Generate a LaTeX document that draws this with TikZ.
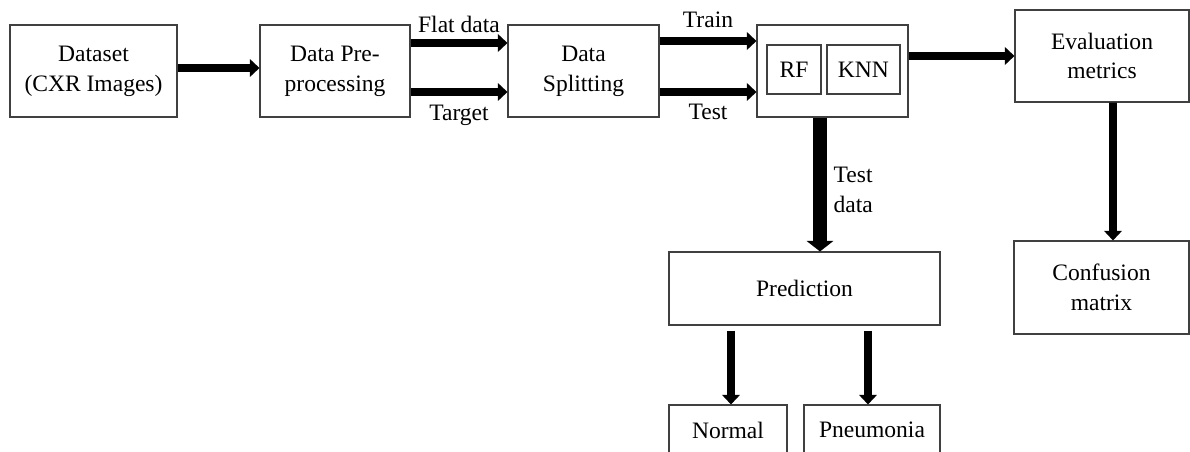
\documentclass[tikz,border=0pt]{standalone}
\usepackage{fontspec}
\setmainfont{Liberation Serif}
\usetikzlibrary{arrows.meta}

\begin{document}
\begin{tikzpicture}[
  box/.style = {draw=black!75, line width=0.6pt, align=center, inner sep=0pt},
  arr/.style = {line width=4.5pt, -{Triangle[length=5.5pt, width=10pt]}},
  bigarr/.style = {line width=7.5pt, -{Triangle[length=6pt, width=15pt]}},
  lbl/.style = {inner sep=0pt},
  font = \fontsize{13.4pt}{17pt}\selectfont
]
\useasboundingbox (0,0) rectangle (23.8,-9.04);
\clip (0,0) rectangle (23.8,-9.04);
% boxes of the top row
\node[box, minimum width=3.34cm, minimum height=1.84cm] (data) at (1.87,-1.42) {Dataset\\(CXR Images)};
\node[box, minimum width=3.00cm, minimum height=1.84cm] (prep) at (6.70,-1.42) {Data Pre-\\processing};
\node[box, minimum width=3.02cm, minimum height=1.84cm] (split) at (11.67,-1.42) {Data\\Splitting};
\node[box, minimum width=3.02cm, minimum height=1.84cm] (model) at (16.65,-1.42) {};
\node[box, minimum width=1.08cm, minimum height=0.98cm] (rf) at (15.88,-1.39) {RF};
\node[box, minimum width=1.46cm, minimum height=0.98cm] (knn) at (17.27,-1.39) {KNN};
\node[box, minimum width=3.48cm, minimum height=1.84cm] (eval) at (22.04,-1.12) {Evaluation\\metrics};
\node[box, minimum width=3.50cm, minimum height=1.86cm] (conf) at (22.03,-5.75) {Confusion\\matrix};
% prediction and its classes
\node[box, minimum width=5.42cm, minimum height=1.46cm] (pred) at (16.09,-5.77) {Prediction};
\node[box, minimum width=2.36cm, minimum height=1.00cm] (normal) at (14.56,-8.60) {Normal};
\node[box, minimum width=2.72cm, minimum height=1.00cm] (pneu) at (17.44,-8.60) {Pneumonia};
% connectors
\draw[arr] ([yshift=0.06cm]data.east) -- ([yshift=0.06cm]prep.west);
\draw[arr] ([yshift=0.56cm]prep.east) -- ([yshift=0.56cm]split.west) node[lbl, midway, above=3.5pt] {Flat data};
\draw[arr] ([yshift=-0.42cm]prep.east) -- ([yshift=-0.42cm]split.west) node[lbl, midway, below=5pt] {Target};
\draw[arr] ([yshift=0.60cm]split.east) -- ([yshift=0.60cm]model.west) node[lbl, midway, above=5.5pt] {Train};
\draw[arr] ([yshift=-0.42cm]split.east) -- ([yshift=-0.42cm]model.west) node[lbl, midway, below=4.5pt] {Test};
\draw[arr] ([yshift=0.30cm]model.east) -- (eval.west);
\draw[arr] ([xshift=0.22cm]eval.south) -- ([xshift=0.23cm]conf.north);
\draw[bigarr] ([xshift=-0.25cm]model.south) -- ([xshift=0.31cm]pred.north)
  node[lbl, midway, right=4pt, yshift=-0.1cm, align=left] {Test\\data};
\draw[arr, shorten <=0.1cm] (pred.south -| normal.north) ++(0.06,0) -- ([xshift=0.06cm]normal.north);
\draw[arr, shorten <=0.1cm] (pred.south -| pneu.north) ++(-0.08,0) -- ([xshift=-0.08cm]pneu.north);
\end{tikzpicture}
\end{document}
